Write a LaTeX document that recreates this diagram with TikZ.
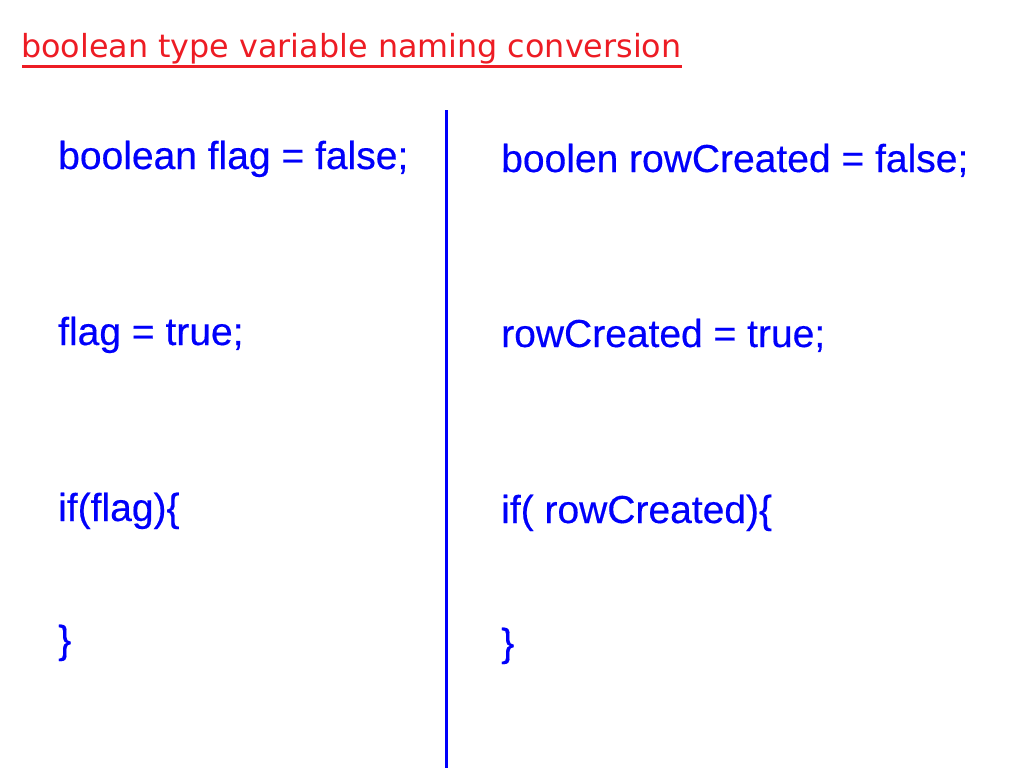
\documentclass[tikz,border=0pt]{standalone}
\usepackage{fontspec}
\setmainfont{Liberation Sans}[FakeBold=0.4]
\newfontfamily\titlefont{DejaVu Sans}
\usepackage{color}
\definecolor{titleRed}{RGB}{237,28,36}
\definecolor{codeBlue}{RGB}{0,0,250}

\begin{document}
\begin{tikzpicture}[x=1pt, y=-1pt,
  codeline/.style={anchor=base west, inner sep=0, text=codeBlue, font=\fontsize{39}{47}\selectfont},
  titleline/.style={anchor=base west, inner sep=0, text=titleRed, font=\titlefont\fontsize{31.8}{38}\selectfont}]
\useasboundingbox (0,0) rectangle (1024,768);

% Draw title
\node[titleline] (title) at (21,57) {boolean type variable naming conversion};
\draw[titleRed, line width=2.5pt] (22,66.5) -- (682,66.5);

% Draw divider
\draw[codeBlue, line width=3pt] (446,110) -- (446,768);

% Left column
\node[codeline] (flagDecl) at (58,169) {boolean flag = false;};
\node[codeline] (flagSet)  at (58,345) {flag = true;};
\node[codeline] (flagIf)   at (58,521) {if(flag)\{};
\node[codeline] (flagEnd)  at (58,653) {\}};

% Right column
\node[codeline] (rowDecl) at (501,172) {boolen rowCreated = false;};
\node[codeline] (rowSet)  at (501,347) {rowCreated = true;};
\node[codeline] (rowIf)   at (501,523) {if( rowCreated)\{};
\node[codeline] (rowEnd)  at (501,656) {\}};
\end{tikzpicture}
\end{document}
